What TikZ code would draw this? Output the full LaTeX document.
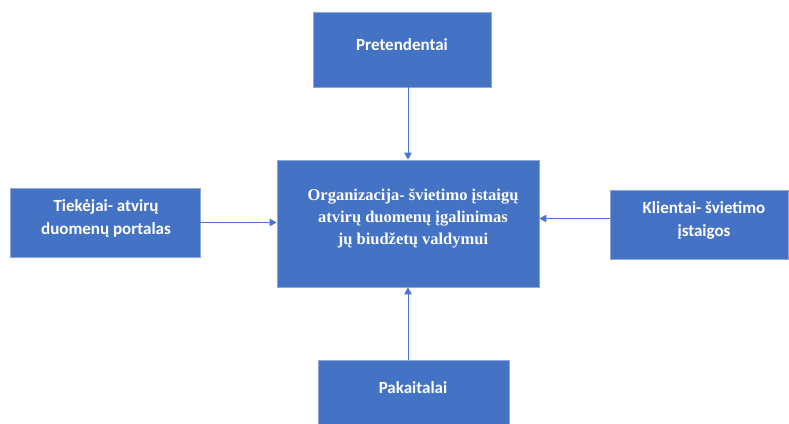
\documentclass[tikz,border=0pt]{standalone}
\usepackage{fontspec}
\setmainfont{Carlito}
\newfontfamily\serifbold{Liberation Serif}
\usetikzlibrary{arrows.meta}
\definecolor{boxblue}{HTML}{4472C4}
\definecolor{edgeblue}{HTML}{8EA7D8}
\definecolor{linkblue}{HTML}{4A76C6}
\begin{document}
\begin{tikzpicture}[x=1pt,y=-1pt,
  block/.style={rectangle, fill=boxblue, draw=edgeblue, line width=0.8pt,
    text=white, align=center, inner sep=0pt},
  sidetext/.style={font=\fontsize{17}{23}\selectfont\bfseries},
  maintext/.style={font=\serifbold\fontsize{16.5}{22}\selectfont\bfseries},
  link/.style={draw=linkblue, line width=0.9pt,
    -{Triangle[length=7pt,width=7.5pt]}}]
  \useasboundingbox (0,0) rectangle (789,423);

  % central organisation block
  \node[block, minimum width=262pt, minimum height=127pt] (org) at (408,223.5) {};
  \node[maintext, text=white, align=center] (orgtxt) at (413,218)
    {Organizacija- švietimo įstaigų\\atvirų duomenų įgalinimas\\jų biudžetų valdymui};

  % surrounding forces
  \node[block, minimum width=178pt, minimum height=75pt] (pre) at (402,49.5) {};
  \node[sidetext, text=white] (pretxt) at (402,45) {Pretendentai};

  \node[block, minimum width=190pt, minimum height=69pt] (tie) at (105,222.5) {};
  \node[sidetext, text=white, align=center] (tietxt) at (106,218.5)
    {Tiekėjai- atvirų\\duomenų portalas};

  \node[block, minimum width=178pt, minimum height=69pt] (kli) at (699,224.5) {};
  \node[sidetext, text=white, align=center] (klitxt) at (704,220.5)
    {Klientai- švietimo\\įstaigos};

  \node[block, minimum width=191pt, minimum height=75pt] (pak) at (413.5,397.5) {};
  \node[sidetext, text=white] (paktxt) at (413,388) {Pakaitalai};

  % arrows into the central block
  \draw[link] (pre.south -| org.north) -- (org.north);
  \draw[link] (pak.north -| org.south) -- (org.south);
  \draw[link] (tie.east) -- (tie.east -| org.west);
  \draw[link] ([yshift=6pt]kli.west) -- ([yshift=6pt]kli.west -| org.east);
\end{tikzpicture}
\end{document}
